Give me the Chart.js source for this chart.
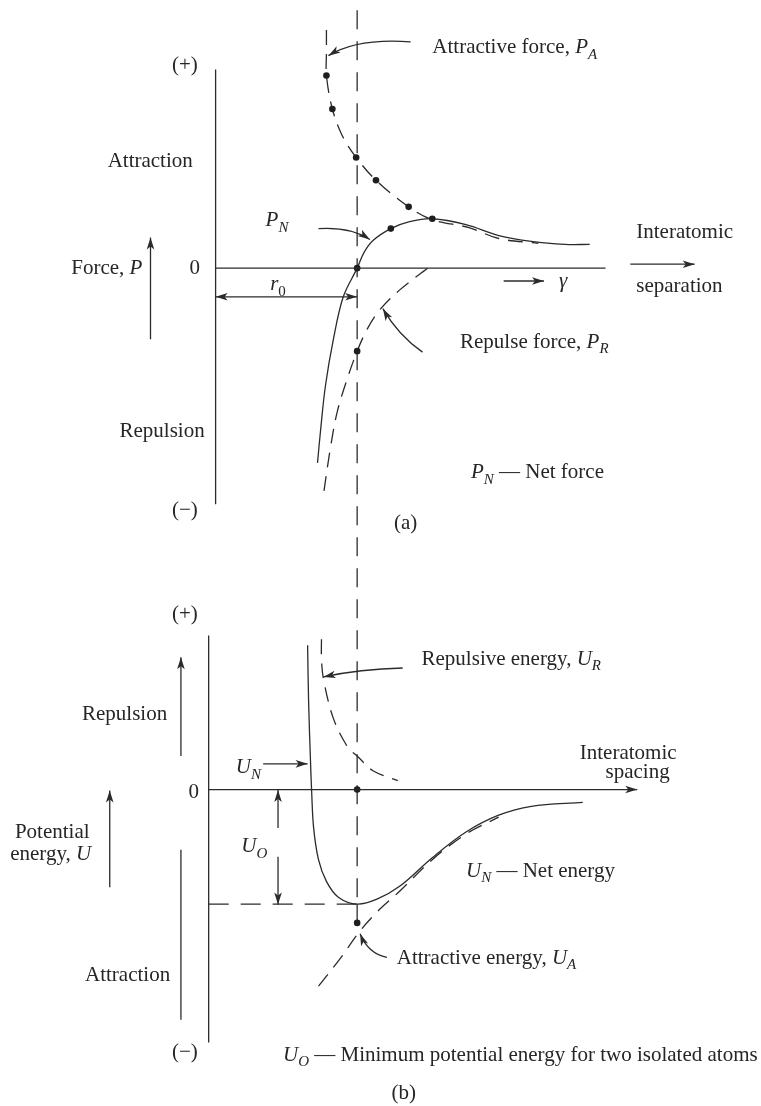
<!DOCTYPE html>
<html>
<head>
<meta charset="utf-8">
<script src="https://cdn.jsdelivr.net/npm/chart.js@4.4.1/dist/chart.umd.min.js"></script>
<style>
  body { margin: 0; background: #fff; }
  canvas { display: block; }
</style>
</head>
<body>
<canvas id="forceChart" width="761" height="560"></canvas>
<canvas id="energyChart" width="761" height="546"></canvas>
<script>
"use strict";

// separation is in units of the equilibrium spacing r0
var R0 = 1;

// (a) force against separation
var attractR = [0.783, 0.783, 0.783, 0.825, 0.895, 0.993, 1.133, 1.364, 1.531, 1.79, 2.0, 2.28];
var attractP = [2.41, 2.18, 1.95, 1.61, 1.34, 1.12, 0.89, 0.62, 0.49, 0.41, 0.30, 0.25];
var attractDots = [2, 3, 5, 6, 7];

var netForceR = [0.72, 0.741, 0.776, 0.832, 0.902, 1.0, 1.049, 1.112, 1.238, 1.371, 1.531, 1.769, 2.0, 2.231, 2.469, 2.643];
var netForceP = [-1.97, -1.65, -1.19, -0.72, -0.29, 0, 0.16, 0.28, 0.40, 0.47, 0.50, 0.44, 0.33, 0.27, 0.24, 0.24];
var netForceDots = [5, 8, 10];

var repulseR = [1.497, 1.301, 1.161, 1.07, 1.0, 0.93, 0.86, 0.811, 0.762];
var repulseP = [0, -0.22, -0.42, -0.62, -0.84, -1.12, -1.45, -1.82, -2.29];
var repulseDots = [4];

// (b) potential energy against spacing
var netEnergyR = [0.65, 0.657, 0.671, 0.678, 0.692, 0.727, 0.783, 0.867, 1.0, 1.14, 1.30, 1.531, 1.769, 2.0, 2.231, 2.594];
var netEnergyU = [1.46, 0.89, 0.26, 0, -0.38, -0.71, -0.93, -1.09, -1.16, -1.11, -0.98, -0.69, -0.43, -0.26, -0.17, -0.13];
var U_MIN = -1.16;

var repEnergyR = [0.748, 0.748, 0.762, 0.832, 0.937, 1.0, 1.112, 1.287];
var repEnergyU = [1.52, 1.32, 1.12, 0.72, 0.42, 0.34, 0.19, 0.09];

var attEnergyR = [0.727, 0.881, 1.021, 1.161, 1.30, 1.531, 1.769, 2.0];
var attEnergyU = [-1.99, -1.71, -1.43, -1.21, -1.03, -0.71, -0.45, -0.28];

var energyDotR = [1.0, 1.0];
var energyDotU = [0, -1.35];

var INK = '#2b2b2b';
var TEXT = '#262626';
var FONT = '"Liberation Serif", "Times New Roman", serif';
var GUIDE_DASH = [19, 12];

function pts(xs, ys) {
  return xs.map(function (x, i) { return { x: x, y: ys[i] }; });
}
function pick(xs, ys, idx) {
  return idx.map(function (i) { return { x: xs[i], y: ys[i] }; });
}

function curve(data, dashed) {
  return {
    data: data, showLine: true, fill: false, tension: 0.35,
    borderColor: INK, borderWidth: 1.3, borderDash: dashed ? [15, 9] : [],
    pointRadius: 0, order: 2
  };
}
function guide(data, dash, offset) {
  return {
    data: data, showLine: true, fill: false, tension: 0,
    borderColor: INK, borderWidth: 1.3, borderDash: dash || [],
    borderDashOffset: offset || 0,
    pointRadius: 0, order: 3
  };
}
function dots(data) {
  return {
    data: data, showLine: false, pointRadius: 3.3, pointHoverRadius: 3.3,
    pointBackgroundColor: '#1e1e1e', pointBorderWidth: 0, order: 0
  };
}

// ---- drawing helpers for axes, arrows and labels ----
function toPx(chart, p) {
  return { x: chart.scales.x.getPixelForValue(p[0]), y: chart.scales.y.getPixelForValue(p[1]) };
}

function head(ctx, tip, from) {
  var a = Math.atan2(tip.y - from.y, tip.x - from.x);
  ctx.save();
  ctx.translate(tip.x, tip.y);
  ctx.rotate(a);
  ctx.beginPath();
  ctx.moveTo(0, 0);
  ctx.lineTo(-12, -3.8);
  ctx.lineTo(-9, 0);
  ctx.lineTo(-12, 3.8);
  ctx.closePath();
  ctx.fill();
  ctx.restore();
}

function drawRich(ctx, parts, x, y, align) {
  var fonts = {
    n: '21px ' + FONT, i: 'italic 21px ' + FONT,
    s: '15px ' + FONT, is: 'italic 15px ' + FONT
  };
  ctx.textBaseline = 'middle';
  ctx.textAlign = 'left';
  var total = 0;
  parts.forEach(function (p) {
    ctx.font = fonts[p[1] || 'n'];
    total += ctx.measureText(p[0]).width;
  });
  var cx = x;
  if (align === 'center') cx = x - total / 2;
  if (align === 'right') cx = x - total;
  parts.forEach(function (p) {
    var st = p[1] || 'n';
    ctx.font = fonts[st];
    var dy = (st === 's' || st === 'is') ? 7 : 0;
    ctx.fillText(p[0], cx, y + dy);
    cx += ctx.measureText(p[0]).width;
  });
}

var notesPlugin = {
  id: 'notes',
  afterDraw: function (chart) {
    var n = chart.options.plugins.notes;
    if (!n) return;
    var ctx = chart.ctx;
    ctx.save();
    ctx.strokeStyle = INK;
    ctx.fillStyle = INK;
    ctx.lineWidth = 1.3;
    ctx.setLineDash([]);

    (n.lines || []).forEach(function (l) {
      var a = toPx(chart, l[0]), b = toPx(chart, l[1]);
      ctx.beginPath();
      ctx.moveTo(a.x, a.y);
      ctx.lineTo(b.x, b.y);
      ctx.stroke();
    });

    (n.arrows || []).forEach(function (l) {
      var a = toPx(chart, l.from), b = toPx(chart, l.to);
      ctx.beginPath();
      ctx.moveTo(a.x, a.y);
      ctx.lineTo(b.x, b.y);
      ctx.stroke();
      head(ctx, b, a);
      if (l.both) head(ctx, a, b);
    });

    (n.pointers || []).forEach(function (l) {
      var a = toPx(chart, l[0]), c = toPx(chart, l[1]), b = toPx(chart, l[2]);
      ctx.beginPath();
      ctx.moveTo(a.x, a.y);
      ctx.quadraticCurveTo(c.x, c.y, b.x, b.y);
      ctx.stroke();
      head(ctx, b, c);
    });

    ctx.fillStyle = TEXT;
    (n.labels || []).forEach(function (t) {
      var p = toPx(chart, t.at);
      drawRich(ctx, t.parts, p.x, p.y, t.align || 'left');
    });
    ctx.restore();
  }
};

function makePanel(id, yMin, yMax, datasets, notes) {
  return new Chart(document.getElementById(id), {
    type: 'scatter',
    data: { datasets: datasets },
    options: {
      responsive: false,
      animation: false,
      devicePixelRatio: 1,
      layout: { padding: 0 },
      events: [],
      scales: {
        x: { type: 'linear', min: -1.5, max: 3.83, display: false },
        y: { type: 'linear', min: yMin, max: yMax, display: false }
      },
      plugins: {
        legend: { display: false },
        tooltip: { enabled: false },
        notes: notes
      }
    },
    plugins: [notesPlugin]
  });
}

// (a) interatomic force
makePanel('forceChart', -2.92, 2.68, [
  guide([{ x: R0, y: 2.61 }, { x: R0, y: -2.92 }], GUIDE_DASH),
  curve(pts(attractR, attractP), true),
  curve(pts(netForceR, netForceP), false),
  curve(pts(repulseR, repulseP), true),
  dots(pick(attractR, attractP, attractDots)
    .concat(pick(netForceR, netForceP, netForceDots))
    .concat(pick(repulseR, repulseP, repulseDots)))
], {
  lines: [
    [[0, 2.01], [0, -2.39]],
    [[0, 0], [2.755, 0]]
  ],
  arrows: [
    { from: [2.93, 0.04], to: [3.385, 0.04] },
    { from: [2.035, -0.13], to: [2.32, -0.13] },
    { from: [0, -0.29], to: [R0, -0.29], both: true },
    { from: [-0.46, -0.72], to: [-0.46, 0.31] }
  ],
  pointers: [
    [[1.378, 2.29], [1.0, 2.33], [0.797, 2.15]],
    [[0.727, 0.40], [0.951, 0.42], [1.09, 0.29]],
    [[1.462, -0.85], [1.29, -0.68], [1.182, -0.41]]
  ],
  labels: [
    { at: [-0.217, 2.05], align: 'center', parts: [['(+)']] },
    { at: [-0.217, -2.45], align: 'center', parts: [['(\u2212)']] },
    { at: [-0.462, 1.08], align: 'center', parts: [['Attraction']] },
    { at: [-0.517, 0], align: 'right', parts: [['Force, '], ['P', 'i']] },
    { at: [-0.147, 0], align: 'center', parts: [['0']] },
    { at: [-0.378, -1.65], align: 'center', parts: [['Repulsion']] },
    { at: [0.441, -0.17], align: 'center', parts: [['r', 'i'], ['0', 's']] },
    { at: [2.455, -0.13], align: 'center', parts: [['\u03b3', 'i']] },
    { at: [1.531, 2.23], parts: [['Attractive force, '], ['P', 'i'], ['A', 'is']] },
    { at: [0.434, 0.48], align: 'center', parts: [['P', 'i'], ['N', 'is']] },
    { at: [2.972, 0.36], parts: [['Interatomic']] },
    { at: [2.972, -0.19], parts: [['separation']] },
    { at: [1.727, -0.75], parts: [['Repulse force, '], ['P', 'i'], ['R', 'is']] },
    { at: [1.804, -2.07], parts: [['P', 'i'], ['N', 'is'], [' \u2014 Net force']] },
    { at: [1.343, -2.58], align: 'center', parts: [['(a)']] }
  ]
});

// (b) potential energy; the r0 guide picks up the dash phase where (a) stops
makePanel('energyChart', -3.17, 2.29, [
  guide([{ x: R0, y: 2.29 }, { x: R0, y: U_MIN }], GUIDE_DASH, 26),
  guide([{ x: R0, y: U_MIN }, { x: R0, y: energyDotU[1] }]),
  guide([{ x: -0.049, y: U_MIN }, { x: R0, y: U_MIN }], [20, 12]),
  curve(pts(netEnergyR, netEnergyU), false),
  curve(pts(repEnergyR, repEnergyU), true),
  curve(pts(attEnergyR, attEnergyU), true),
  dots(pts(energyDotR, energyDotU))
], {
  lines: [
    [[-0.049, 1.56], [-0.049, -2.56]],
    [[-0.245, -0.61], [-0.245, -2.33]]
  ],
  arrows: [
    { from: [-0.049, 0], to: [2.979, 0] },
    { from: [-0.245, 0.34], to: [-0.245, 1.34] },
    { from: [-0.748, -0.99], to: [-0.748, -0.01] },
    { from: [0.336, 0.26], to: [0.65, 0.26] },
    { from: [0.441, -0.39], to: [0.441, -0.005] },
    { from: [0.441, -0.68], to: [0.441, U_MIN - 0.005] }
  ],
  pointers: [
    [[1.322, 1.23], [1.021, 1.22], [0.762, 1.14]],
    [[1.21, -1.70], [1.077, -1.66], [1.021, -1.46]]
  ],
  labels: [
    { at: [-0.217, 1.77], align: 'center', parts: [['(+)']] },
    { at: [-0.217, -2.66], align: 'center', parts: [['(\u2212)']] },
    { at: [-0.643, 0.76], align: 'center', parts: [['Repulsion']] },
    { at: [-0.154, -0.03], align: 'center', parts: [['0']] },
    { at: [-1.154, -0.43], align: 'center', parts: [['Potential']] },
    { at: [-1.165, -0.66], align: 'center', parts: [['energy, '], ['U', 'i']] },
    { at: [-0.622, -1.88], align: 'center', parts: [['Attraction']] },
    { at: [0.273, -0.58], align: 'center', parts: [['U', 'i'], ['O', 'is']] },
    { at: [0.231, 0.22], align: 'center', parts: [['U', 'i'], ['N', 'is']] },
    { at: [1.455, 1.32], parts: [['Repulsive energy, '], ['U', 'i'], ['R', 'is']] },
    { at: [2.573, 0.36], parts: [['Interatomic']] },
    { at: [2.755, 0.17], parts: [['spacing']] },
    { at: [1.769, -0.83], parts: [['U', 'i'], ['N', 'is'], [' \u2014 Net energy']] },
    { at: [1.28, -1.71], parts: [['Attractive energy, '], ['U', 'i'], ['A', 'is']] },
    { at: [0.476, -2.69], parts: [['U', 'i'], ['O', 'is'], [' \u2014 Minimum potential energy for two isolated atoms']] },
    { at: [1.329, -3.08], align: 'center', parts: [['(b)']] }
  ]
});
</script>
</body>
</html>
